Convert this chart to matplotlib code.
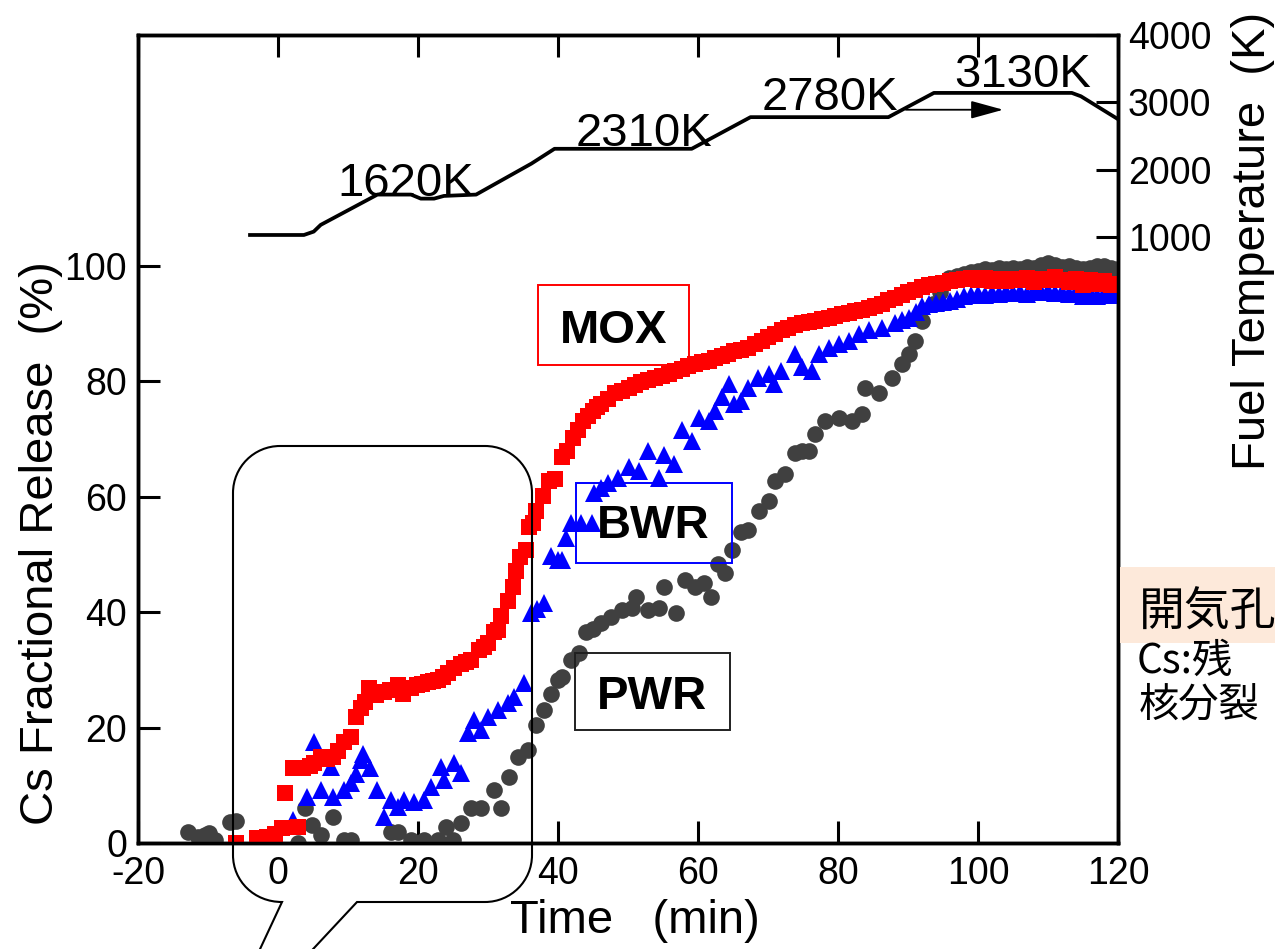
import matplotlib
matplotlib.use('Agg')
import matplotlib.pyplot as plt
from matplotlib.patches import Rectangle, PathPatch
from matplotlib.path import Path

plt.rcParams['font.family'] = ['Liberation Sans', 'DejaVu Sans']
plt.rcParams['axes.unicode_minus'] = False

# ---------------- data ----------------
mox = [(-6.0, 0.0), (-3.0, 0.9), (-1.6, 1.1), (-0.5, 1.6), (0.5, 2.6), (1.0, 8.6), (2.2, 13.0),
       (2.9, 2.8), (3.6, 13.0), (4.5, 13.3), (5.1, 13.8), (6.1, 14.9), (7.0, 14.6), (7.8, 14.9),
       (8.6, 16.0), (9.4, 17.5), (10.4, 18.3), (11.1, 21.8), (11.8, 23.4), (12.4, 24.5), (13.0, 26.8),
       (14.0, 25.6), (15.1, 26.1), (16.0, 26.5), (17.1, 27.3), (17.9, 25.9), (19.0, 26.8), (19.9, 27.3),
       (20.6, 27.5), (21.4, 27.9), (22.1, 28.0), (22.8, 28.2), (23.6, 28.8), (24.3, 29.4), (25.1, 30.3),
       (26.1, 31.1), (26.8, 31.3), (27.6, 31.7), (28.7, 33.4), (29.4, 34.0), (30.0, 34.6), (30.9, 36.5),
       (31.4, 36.9), (31.9, 39.4), (32.9, 42.0), (33.6, 44.3), (34.0, 47.2), (34.6, 49.5), (35.4, 50.7),
       (35.9, 54.7), (36.4, 55.4), (36.9, 57.6), (37.9, 60.2), (38.7, 62.8), (39.5, 63.0), (40.5, 66.8),
       (41.3, 68.0), (42.2, 70.2), (42.9, 71.5), (43.6, 73.2), (44.3, 74.0), (45.0, 74.9), (45.6, 75.5),
       (46.2, 76.1), (47.2, 77.0), (48.1, 77.9), (49.1, 78.4), (50.1, 78.9), (51.0, 79.3), (51.9, 79.8),
       (52.8, 80.2), (53.8, 80.6), (54.8, 80.9), (55.8, 81.3), (56.7, 81.8), (57.7, 82.2), (58.6, 82.6),
       (59.5, 83.0), (60.5, 83.3), (61.5, 83.6), (62.4, 84.0), (63.4, 84.4), (64.3, 84.8), (65.2, 85.3),
       (66.2, 85.5), (67.2, 85.8), (68.1, 86.4), (69.1, 87.0), (70.0, 87.6), (71.0, 88.2), (72.0, 88.8),
       (72.9, 89.3), (73.9, 89.7), (74.8, 90.1), (75.8, 90.3), (76.7, 90.5), (77.7, 90.8), (78.7, 91.0),
       (79.6, 91.3), (80.6, 91.7), (81.5, 91.9), (82.4, 92.2), (83.4, 92.4), (84.4, 92.7), (85.3, 93.0),
       (86.3, 93.4), (87.2, 94.0), (88.2, 94.5), (89.1, 95.0), (90.0, 95.4), (91.0, 95.8), (92.0, 96.3),
       (93.0, 96.6), (94.0, 96.9), (95.0, 97.1), (96.0, 97.3), (97.0, 97.5), (98.0, 97.7), (99.0, 97.9),
       (100.0, 97.6), (101.0, 97.9), (102.0, 97.4), (103.0, 97.8), (104.0, 97.3), (105.0, 97.8),
       (106.0, 97.5), (107.0, 97.9), (108.0, 97.2), (109.0, 97.7), (110.0, 97.5), (111.0, 98.0),
       (112.0, 97.6), (113.0, 97.2), (114.0, 97.8), (115.0, 96.6), (116.0, 97.5), (117.0, 96.8),
       (118.0, 97.4), (119.0, 96.7), (120.0, 96.9)]

bwr = [(-0.1, 0.5), (2.2, 4.0), (4.2, 8.0), (5.1, 17.5), (6.1, 9.2), (7.5, 13.2), (7.9, 8.0),
       (9.4, 9.2), (10.4, 10.4), (11.1, 12.0), (11.8, 14.4), (12.2, 15.5), (13.2, 13.0), (14.2, 9.2),
       (15.1, 4.5), (16.1, 7.4), (17.1, 6.2), (18.0, 7.4), (19.4, 7.1), (20.8, 7.4), (21.8, 9.7),
       (23.3, 13.2), (23.7, 10.9), (25.1, 13.8), (26.1, 12.1), (27.1, 19.0), (28.0, 21.3), (29.0, 19.6),
       (30.0, 21.8), (31.4, 23.0), (32.9, 24.2), (33.7, 25.3), (35.2, 27.7), (36.2, 39.8), (37.0, 40.5),
       (38.0, 41.5), (39.0, 49.8), (40.0, 49.0), (40.5, 49.0), (41.2, 52.9), (41.9, 55.4), (43.3, 55.4),
       (44.8, 55.4), (45.2, 60.6), (46.2, 61.5), (47.2, 62.3), (48.6, 63.3), (50.1, 65.1), (51.5, 64.5),
       (52.9, 68.0), (54.4, 63.3), (55.2, 67.3), (56.6, 65.7), (57.7, 71.5), (59.1, 69.7), (60.1, 73.7),
       (61.5, 73.2), (62.4, 74.9), (63.4, 77.2), (64.4, 79.6), (65.2, 76.1), (66.2, 76.6), (67.2, 78.9),
       (68.6, 80.6), (70.1, 81.3), (70.9, 79.6), (71.9, 81.8), (73.8, 84.8), (74.8, 82.4), (76.3, 81.8),
       (77.3, 84.8), (78.7, 85.8), (80.1, 86.5), (81.6, 87.0), (83.0, 88.2), (84.4, 88.8), (86.3, 89.3),
       (88.2, 90.1), (89.2, 90.6), (90.2, 91.0), (91.1, 92.0), (92.0, 93.1), (93.0, 93.4), (94.0, 93.6),
       (95.0, 93.8), (96.0, 93.9), (97.0, 94.3), (98.0, 94.7), (99.0, 95.0), (100.0, 95.2), (101.0, 95.0),
       (102.0, 95.3), (103.0, 95.1), (104.0, 95.4), (105.0, 95.3), (106.0, 95.5), (107.0, 95.2),
       (108.0, 95.6), (109.0, 95.4), (110.0, 95.7), (111.0, 95.3), (112.0, 95.5), (113.0, 95.2),
       (114.0, 95.4), (115.0, 94.8), (116.0, 95.3), (117.0, 94.8), (118.0, 95.2), (119.0, 95.0),
       (120.0, 95.6)]

pwr = [(-12.8, 1.9), (-11.5, 1.0), (-10.5, 1.4), (-9.9, 1.7), (-9.0, 0.5), (-6.8, 3.6), (-6.0, 3.8),
       (2.8, 0.0), (3.9, 6.1), (4.9, 3.1), (6.1, 1.4), (7.9, 4.5), (9.4, 0.5), (10.4, 0.5), (16.1, 1.9),
       (17.1, 1.9), (19.0, 0.5), (20.8, 0.5), (22.8, 0.5), (24.0, 2.8), (25.0, 0.5), (26.1, 3.5),
       (27.6, 6.1), (29.0, 6.1), (30.9, 9.2), (31.9, 6.1), (33.0, 11.4), (34.3, 14.9), (35.7, 16.1),
       (36.9, 20.4), (38.0, 23.0), (39.0, 25.9), (40.0, 28.2), (40.5, 28.7), (41.9, 31.7), (43.0, 32.9),
       (44.0, 36.5), (45.0, 37.0), (46.2, 38.1), (47.6, 39.1), (49.1, 40.3), (50.5, 40.8), (51.2, 42.6),
       (52.9, 40.3), (54.4, 40.8), (55.2, 44.3), (56.9, 39.8), (58.1, 45.5), (59.5, 44.3), (60.9, 45.0),
       (61.9, 42.6), (62.9, 48.4), (63.8, 46.7), (64.8, 50.7), (66.2, 53.8), (67.2, 54.2), (68.7, 57.6),
       (70.1, 59.3), (71.0, 62.8), (72.4, 64.0), (73.8, 67.5), (74.8, 68.0), (75.8, 68.0), (76.7, 70.9),
       (78.1, 73.2), (80.1, 73.7), (82.0, 73.2), (83.4, 74.4), (83.9, 78.9), (85.9, 77.9), (87.7, 80.6),
       (89.2, 83.0), (90.2, 84.8), (91.0, 87.0), (92.0, 90.5), (93.5, 93.4), (94.5, 95.5), (95.9, 97.9),
       (97.0, 98.3), (98.0, 98.6), (99.0, 99.0), (100.0, 99.1), (101.0, 99.4), (102.0, 99.2),
       (103.0, 99.6), (104.0, 99.5), (105.0, 99.7), (106.0, 99.4), (107.0, 99.8), (108.0, 99.6),
       (109.0, 100.2), (110.0, 100.5), (111.0, 100.1), (112.0, 99.8), (113.0, 99.9), (114.0, 99.6),
       (115.0, 99.4), (116.0, 99.7), (117.0, 99.9), (118.0, 100.0), (119.0, 99.6), (120.0, 99.5)]

temp_t = [-4.0, 3.7, 5.1, 6.1, 14.2, 19.0, 20.4, 22.3, 23.7, 28.3, 36.2, 39.5, 59.1, 67.5,
          87.2, 93.7, 113.4, 114.7, 120.0]
temp_K = [1030, 1030, 1080, 1180, 1630, 1630, 1570, 1570, 1610, 1630, 2090, 2310, 2310, 2780,
          2780, 3140, 3140, 3090, 2750]

temp_labels = ['1620K', '2310K', '2780K', '3130K']
temp_label_pos = [(18.3, 1610), (52.3, 2345), (78.9, 2880), (106.4, 3225)]

x_ticks = [-20, 0, 20, 40, 60, 80, 100, 120]
y_ticks = [0, 20, 40, 60, 80, 100]
t_ticks = [1000, 2000, 3000, 4000]

# ---------------- figure ----------------
W, H = 1275, 949
fig = plt.figure(figsize=(W / 100, H / 100), dpi=100)
ax = fig.add_axes([138 / W, 106 / H, 980 / W, 808 / H])
ax2 = ax.twinx()

ax.plot([p[0] for p in pwr], [p[1] for p in pwr], 'o', color='#404040', ms=12, mew=0, zorder=3)
ax.plot([p[0] for p in bwr], [p[1] for p in bwr], '^', color='#0000FF', ms=13, mew=0, zorder=4)
ax.plot([p[0] for p in mox], [p[1] for p in mox], 's', color='#FF0000', ms=12, mew=0, zorder=5)

ax.set_xlim(-20, 120)
ax.set_ylim(0, 140)
ax.set_xticks(x_ticks)
ax.set_yticks(y_ticks)
ax.tick_params(axis='x', direction='in', length=16, width=2.2, labelsize=27, pad=9, top=True)
ax.tick_params(axis='y', direction='in', length=16, width=2.2, labelsize=27, pad=8)
for s in ax.spines.values():
    s.set_linewidth(2.5)

ax2.plot(temp_t, temp_K, '-', color='black', lw=2.7)
ax2.set_ylim(-8000, 4000)
ax2.set_yticks(t_ticks)
ax2.tick_params(axis='y', direction='in', length=16, width=2.2, labelsize=27, pad=7)
for s in ax2.spines.values():
    s.set_linewidth(2.5)

for lab, (tx, ty) in zip(temp_labels, temp_label_pos):
    ax2.text(tx, ty, lab, fontsize=34, ha='center', va='baseline')
ax2.annotate('', xy=(104.0, 2890), xytext=(89.3, 2890),
             arrowprops=dict(arrowstyle='-|>,head_length=2.0,head_width=0.55', color='black', lw=1.3))

ax.set_xlabel('Time   (min)', fontsize=34)
ax.xaxis.set_label_coords(0.507, -0.097)
ax.xaxis.label.set_va('center')
ax.set_ylabel('Cs Fractional Release  (%)', fontsize=34)
ax.yaxis.set_label_coords(-0.0985, 0.371)
ax.yaxis.label.set_va('center')
ax2.set_ylabel('Fuel Temperature  (K)', fontsize=34)
ax2.yaxis.set_label_coords(1.1375, 0.745)
ax2.yaxis.label.set_va('center')

# series boxes
ax.add_patch(Rectangle((37.1, 82.9), 21.6, 13.8, fill=False, ec='#FF0000', lw=1.4, zorder=6))
ax.text(47.9, 86.7, 'MOX', fontsize=34, fontweight='bold', ha='center', va='baseline', zorder=7)
ax.add_patch(Rectangle((42.6, 48.6), 22.2, 13.8, fill=False, ec='#0000FF', lw=1.4, zorder=6))
ax.text(53.6, 52.8, 'BWR', fontsize=34, fontweight='bold', ha='center', va='baseline', zorder=7)
ax.add_patch(Rectangle((42.4, 19.6), 22.1, 13.4, fill=False, ec='#202020', lw=1.4, zorder=6))
ax.text(53.4, 23.3, 'PWR', fontsize=34, fontweight='bold', ha='center', va='baseline', zorder=7)

# ---------------- overlay (figure pixels) ----------------
ov = fig.add_axes([0, 0, 1, 1], zorder=10)
ov.set_xlim(0, W)
ov.set_ylim(H, 0)
ov.axis('off')
ov.patch.set_alpha(0)

L, R, T, B, r = 233, 532, 446, 902, 47
k = 0.5523 * r
verts = [(254, 962), (282, B),
         (L + r - k, B), (L, B - r + k), (L, B - r),
         (L, T + r),
         (L, T + r - k), (L + r - k, T), (L + r, T),
         (R - r, T),
         (R - r + k, T), (R, T + r - k), (R, T + r),
         (R, B - r),
         (R, B - r + k), (R - r + k, B), (R - r, B),
         (357, B), (301, 962)]
codes = [Path.MOVETO, Path.LINETO,
         Path.CURVE4, Path.CURVE4, Path.CURVE4,
         Path.LINETO,
         Path.CURVE4, Path.CURVE4, Path.CURVE4,
         Path.LINETO,
         Path.CURVE4, Path.CURVE4, Path.CURVE4,
         Path.LINETO,
         Path.CURVE4, Path.CURVE4, Path.CURVE4,
         Path.LINETO, Path.LINETO]
ov.add_patch(PathPatch(Path(verts, codes), fill=False, ec='black', lw=1.5))

ov.add_patch(Rectangle((1120, 567), 160, 76, fc='#FDE9DA', ec='none', zorder=1))
cjk = ['Noto Sans CJK JP', 'DejaVu Sans']
ov.text(1139, 612, '開気孔', fontsize=33, family=cjk, ha='left', va='center', zorder=2)
ov.text(1137, 661, 'Cs:残', fontsize=29, family=cjk, ha='left', va='center', zorder=2)
ov.text(1139, 705, '核分裂', fontsize=29, family=cjk, ha='left', va='center', zorder=2)

fig.savefig('out.png', dpi=100)
